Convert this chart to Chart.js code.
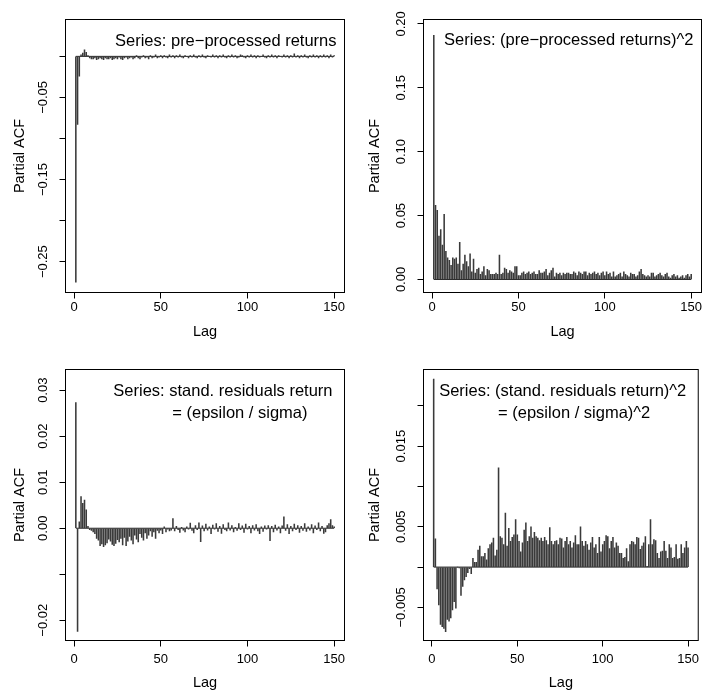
<!DOCTYPE html>
<html>
<head>
<meta charset="utf-8">
<script src="https://cdn.jsdelivr.net/npm/chart.js@4.4.1/dist/chart.umd.min.js"></script>
<style>
  html, body { margin: 0; padding: 0; background: #fff; }
  #page { position: relative; width: 704px; height: 693px; }
  canvas { position: absolute; }
</style>
</head>
<body>
<div id="page">
  <canvas id="p1" width="352" height="346" style="left:0;top:0"></canvas>
  <canvas id="p2" width="352" height="346" style="left:352px;top:0"></canvas>
  <canvas id="p3" width="352" height="347" style="left:0;top:346px"></canvas>
  <canvas id="p4" width="352" height="347" style="left:352px;top:346px"></canvas>
</div>
<script>
// lags 1..150
const lags = Array.from({ length: 150 }, (_, i) => i + 1);
const xTicks = [0, 50, 100, 150];

// PACF of pre-processed returns
const pacfReturns = [
  -0.275, -0.083, -0.024, 0.002, 0.004, 0.008, 0.005, 0.001, -0.002, -0.003,
  -0.003, -0.002, -0.004, -0.003, -0.002, -0.003, -0.004, -0.002, -0.003, -0.003,
  -0.002, -0.004, -0.003, -0.002, -0.003, -0.001, -0.003, -0.004, -0.002, -0.001,
  -0.003, -0.002, -0.001, -0.003, -0.002, 0.001, -0.002, -0.003, -0.001, 0.001,
  -0.002, -0.001, -0.003, 0.001, -0.002, -0.001, 0.002, -0.002, -0.001, 0.001,
  -0.002, 0.001, -0.001, -0.002, 0.002, -0.001, 0.001, -0.002, 0.001, -0.001,
  0.002, -0.001, -0.002, 0.001, 0.000, -0.002, 0.001, -0.001, 0.002, -0.001,
  -0.002, 0.001, -0.001, 0.002, -0.001, -0.002, 0.001, 0.000, -0.001, 0.002,
  -0.001, 0.001, -0.002, 0.001, -0.001, 0.002, -0.001, -0.002, 0.001, -0.001,
  0.002, -0.001, 0.001, -0.002, -0.001, 0.002, 0.001, -0.001, -0.002, 0.001,
  -0.001, 0.002, -0.001, 0.001, -0.002, 0.001, -0.001, 0.000, 0.002, -0.001,
  -0.002, 0.001, -0.001, 0.002, -0.001, 0.001, -0.002, 0.001, 0.000, -0.001,
  0.002, -0.001, 0.001, -0.002, 0.001, -0.001, 0.003, -0.001, 0.001, -0.002,
  0.001, -0.001, 0.002, -0.001, -0.002, 0.001, -0.001, 0.002, -0.001, 0.001,
  -0.002, 0.001, -0.001, 0.002, -0.001, 0.001, -0.002, 0.002, -0.001, 0.001
];

// PACF of squared returns
const pacfReturnsSq = [
  0.191, 0.058, 0.054, 0.034, 0.039, 0.027, 0.051, 0.022, 0.017, 0.015,
  0.011, 0.017, 0.016, 0.017, 0.012, 0.029, 0.007, 0.012, 0.019, 0.014,
  0.010, 0.020, 0.006, 0.016, 0.005, 0.008, 0.009, 0.004, 0.006, 0.010,
  0.003, 0.008, 0.007, 0.004, 0.004, 0.004, 0.005, 0.004, 0.019, 0.004,
  0.005, 0.009, 0.008, 0.005, 0.007, 0.006, 0.005, 0.010, 0.010, 0.003,
  0.003, 0.005, 0.006, 0.004, 0.005, 0.006, 0.004, 0.005, 0.006, 0.004,
  0.004, 0.007, 0.005, 0.005, 0.006, 0.008, 0.003, 0.005, 0.007, 0.009,
  0.002, 0.005, 0.004, 0.005, 0.003, 0.005, 0.004, 0.005, 0.005, 0.004,
  0.004, 0.006, 0.005, 0.003, 0.006, 0.005, 0.004, 0.006, 0.006, 0.003,
  0.005, 0.004, 0.005, 0.006, 0.004, 0.005, 0.003, 0.005, 0.006, 0.003,
  0.006, 0.004, 0.005, 0.002, 0.006, 0.002, 0.003, 0.004, 0.005, 0.002,
  0.006, 0.004, 0.003, 0.002, 0.005, 0.004, 0.004, 0.002, 0.003, 0.006,
  0.008, 0.004, 0.003, 0.002, 0.003, 0.002, 0.005, 0.005, 0.002, 0.003,
  0.004, 0.005, 0.003, 0.002, 0.004, 0.005, 0.002, 0.001, 0.003, 0.004,
  0.002, 0.003, 0.001, 0.002, 0.003, 0.001, 0.003, 0.004, 0.002, 0.004
];

// PACF of standardised residuals
const pacfResid = [
  0.0273, -0.0224, 0.0014, 0.0069, 0.0054, 0.0061, 0.0040, 0.0004, -0.0003, -0.0005,
  -0.0008, -0.0012, -0.0022, -0.0026, -0.0038, -0.0034, -0.0040, -0.0036, -0.0032, -0.0024,
  -0.0028, -0.0035, -0.0038, -0.0033, -0.0025, -0.0030, -0.0022, -0.0036, -0.0020, -0.0038,
  -0.0028, -0.0018, -0.0026, -0.0034, -0.0015, -0.0024, -0.0030, -0.0012, -0.0020, -0.0026,
  -0.0010, -0.0022, -0.0015, -0.0006, -0.0018, -0.0008, -0.0022, -0.0005, -0.0010, -0.0004,
  -0.0012, 0.0003, -0.0008, -0.0002, -0.0006, -0.0004, 0.0021, -0.0006, 0.0004, -0.0003,
  -0.0009, 0.0002, -0.0004, -0.0008, 0.0003, -0.0002, 0.0011, -0.0005, -0.0010, 0.0006,
  -0.0003, 0.0012, -0.0029, 0.0005, -0.0006, 0.0009, -0.0004, 0.0003, -0.0012, 0.0007,
  -0.0002, 0.0010, -0.0007, 0.0004, -0.0011, 0.0008, -0.0003, -0.0006, 0.0012, -0.0004,
  0.0006, -0.0008, 0.0002, -0.0005, 0.0010, -0.0003, 0.0005, -0.0009, 0.0009, -0.0002,
  0.0004, -0.0010, 0.0006, -0.0004, 0.0008, -0.0006, -0.0012, 0.0003, -0.0007, 0.0005,
  -0.0002, 0.0006, -0.0027, 0.0004, -0.0008, 0.0007, -0.0004, 0.0003, -0.0010, 0.0005,
  0.0025, -0.0005, 0.0008, -0.0012, 0.0004, -0.0006, 0.0009, -0.0003, 0.0006, -0.0009,
  0.0004, -0.0005, 0.0010, -0.0007, 0.0003, -0.0004, 0.0008, -0.0010, 0.0005, -0.0003,
  0.0012, -0.0006, 0.0004, -0.0011, -0.0008, 0.0006, 0.0010, 0.0019, 0.0006, 0.0003
];

// PACF of squared standardised residuals
const pacfResidSq = [
  0.0233, 0.0035, -0.0027, -0.0047, -0.0071, -0.0074, -0.0076, -0.0080, -0.0065, -0.0067,
  -0.0063, -0.0053, -0.0043, -0.0051, 0.0000, -0.0001, -0.0035, -0.0024, -0.0016, -0.0012,
  -0.0007, -0.0002, -0.0008, 0.0011, 0.0006, 0.0006, 0.0021, 0.0026, 0.0013, 0.0013,
  0.0017, 0.0009, 0.0023, 0.0028, 0.0030, 0.0036, 0.0014, 0.0021, 0.0123, 0.0038,
  0.0036, 0.0028, 0.0067, 0.0026, 0.0048, 0.0032, 0.0037, 0.0040, 0.0059, 0.0040,
  0.0032, 0.0019, 0.0030, 0.0046, 0.0055, 0.0032, 0.0038, 0.0050, 0.0036, 0.0043,
  0.0038, 0.0036, 0.0033, 0.0036, 0.0032, 0.0037, 0.0033, 0.0028, 0.0049, 0.0032,
  0.0028, 0.0032, 0.0033, 0.0028, 0.0036, 0.0035, 0.0024, 0.0032, 0.0037, 0.0028,
  0.0032, 0.0024, 0.0030, 0.0039, 0.0028, 0.0028, 0.0050, 0.0032, 0.0026, 0.0032,
  0.0028, 0.0021, 0.0030, 0.0037, 0.0024, 0.0028, 0.0017, 0.0037, 0.0019, 0.0028,
  0.0032, 0.0039, 0.0038, 0.0023, 0.0032, 0.0037, 0.0024, 0.0030, 0.0026, 0.0017,
  0.0017, 0.0011, 0.0012, 0.0023, 0.0007, 0.0028, 0.0032, 0.0031, 0.0028, 0.0037,
  0.0036, 0.0022, 0.0026, 0.0030, 0.0038, 0.0001, 0.0028, 0.0059, 0.0028, 0.0034,
  0.0033, 0.0017, 0.0011, 0.0019, 0.0020, 0.0032, 0.0020, 0.0011, 0.0028, 0.0024,
  0.0011, 0.0012, 0.0028, 0.0010, 0.0011, 0.0028, 0.0017, 0.0024, 0.0032, 0.0024
];

// y axis ticks and the labels R kept (overlapping ones are blank)
const yTicks1 = [-0.25, -0.20, -0.15, -0.10, -0.05, 0];
const yLabels1 = ['\u22120.25', '', '\u22120.15', '', '\u22120.05', ''];
const yTicks2 = [0, 0.05, 0.10, 0.15, 0.20];
const yLabels2 = ['0.00', '0.05', '0.10', '0.15', '0.20'];
const yTicks3 = [-0.02, -0.01, 0, 0.01, 0.02, 0.03];
const yLabels3 = ['\u22120.02', '', '0.00', '0.01', '0.02', '0.03'];
const yTicks4 = [-0.005, 0, 0.005, 0.010, 0.015, 0.020];
const yLabels4 = ['\u22120.005', '', '0.005', '', '0.015', ''];

const legend1 = ['Series: pre\u2212processed returns'];
const legend2 = ['Series: (pre\u2212processed returns)^2'];
const legend3 = ['Series: stand. residuals return', '= (epsilon / sigma)'];
const legend4 = ['Series: (stand. residuals return)^2', '= (epsilon / sigma)^2'];

Chart.defaults.font.family = '"Liberation Sans", Arial, Helvetica, sans-serif';
Chart.defaults.color = '#000';

const FONT = '"Liberation Sans", Arial, Helvetica, sans-serif';

// box, rotated y tick labels and the series text, R style
const rDecor = {
  id: 'rDecor',
  afterDraw(chart, args, o) {
    const { ctx, chartArea: a } = chart;
    const y = chart.scales.y;
    ctx.save();
    ctx.strokeStyle = '#000';
    ctx.lineWidth = 1;
    ctx.strokeRect(a.left, a.top, a.right - a.left, a.bottom - a.top);
    ctx.fillStyle = '#000';
    ctx.font = '13px ' + FONT;
    ctx.textAlign = 'center';
    ctx.textBaseline = 'middle';
    y.ticks.forEach(t => {
      if (!t.label) return;
      ctx.save();
      ctx.translate(a.left - o.yLabelGap, y.getPixelForValue(t.value));
      ctx.rotate(-Math.PI / 2);
      ctx.fillText(t.label, 0, 0);
      ctx.restore();
    });
    ctx.font = '16.5px ' + FONT;
    ctx.textAlign = 'right';
    o.lines.forEach((line, i) => {
      ctx.fillText(line, a.right - o.right[i], a.top + o.top[i]);
    });
    ctx.restore();
  }
};

function pacfPanel(id, values, yMin, yMax, yTicks, yLabels, g, legend) {
  new Chart(document.getElementById(id), {
    type: 'bar',
    data: {
      datasets: [{
        data: lags.map((l, i) => ({ x: l, y: values[i] })),
        backgroundColor: '#3a3a3a',
        borderWidth: 0,
        barThickness: 0.9
      }, {
        type: 'line',
        data: [{ x: lags[0], y: 0 }, { x: lags[lags.length - 1], y: 0 }],
        borderColor: '#222',
        borderWidth: 1,
        pointRadius: 0
      }]
    },
    options: {
      responsive: false,
      animation: false,
      events: [],
      layout: { padding: { top: g.top, right: g.right, left: 0, bottom: 0 } },
      plugins: {
        legend: { display: false },
        tooltip: { enabled: false },
        rDecor: { yLabelGap: g.yLabelGap, lines: legend, right: g.legRight, top: g.legTop }
      },
      scales: {
        x: {
          type: 'linear',
          min: -4.96,
          max: 155.96,
          offset: false,
          afterBuildTicks: s => { s.ticks = xTicks.map(v => ({ value: v })); },
          afterFit: s => { s.height = g.xH; },
          grid: { display: true, drawOnChartArea: false, tickLength: 6, color: '#000', offset: false },
          border: { display: false },
          ticks: { font: { size: 13 }, padding: g.xTickPad, maxRotation: 0, autoSkip: false },
          title: { display: true, text: 'Lag', font: { size: 14.5 }, padding: { top: 0, bottom: g.xTitlePad } }
        },
        y: {
          min: yMin,
          max: yMax,
          afterBuildTicks: s => { s.ticks = yTicks.map(v => ({ value: v })); },
          afterFit: s => { s.width = g.yW; },
          grid: { display: true, drawOnChartArea: false, tickLength: 6, color: '#000' },
          border: { display: false },
          ticks: { display: false, callback: (v, i) => yLabels[i] },
          title: { display: true, text: 'Partial ACF', font: { size: 14.5 }, padding: { top: g.yTitlePad, bottom: 0 } }
        }
      }
    },
    plugins: [rDecor]
  });
}

pacfPanel('p1', pacfReturns, -0.2876, 0.0449, yTicks1, yLabels1,
  { top: 19.5, right: 7.5, xH: 53.5, yW: 65.5, xTickPad: 1, xTitlePad: 5, yTitlePad: 11.3, yLabelGap: 22, legRight: [8], legTop: [22] }, legend1);
pacfPanel('p2', pacfReturnsSq, -0.0102, 0.2034, yTicks2, yLabels2,
  { top: 19.5, right: 2.5, xH: 53.5, yW: 71.5, xTickPad: 1, xTitlePad: 5, yTitlePad: 14.3, yLabelGap: 22, legRight: [8], legTop: [21] }, legend2);
pacfPanel('p3', pacfResid, -0.0244, 0.0345, yTicks3, yLabels3,
  { top: 23.5, right: 7.5, xH: 52.5, yW: 65.5, xTickPad: 5, xTitlePad: 1, yTitlePad: 11.3, yLabelGap: 22, legRight: [12, 37], legTop: [22, 44] }, legend3);
pacfPanel('p4', pacfResidSq, -0.0091, 0.0245, yTicks4, yLabels4,
  { top: 23.5, right: 2.5, xH: 52.5, yW: 71.5, xTickPad: 5, xTitlePad: 1, yTitlePad: 14.3, yLabelGap: 22, legRight: [12, 48], legTop: [22, 44] }, legend4);
</script>
</body>
</html>
